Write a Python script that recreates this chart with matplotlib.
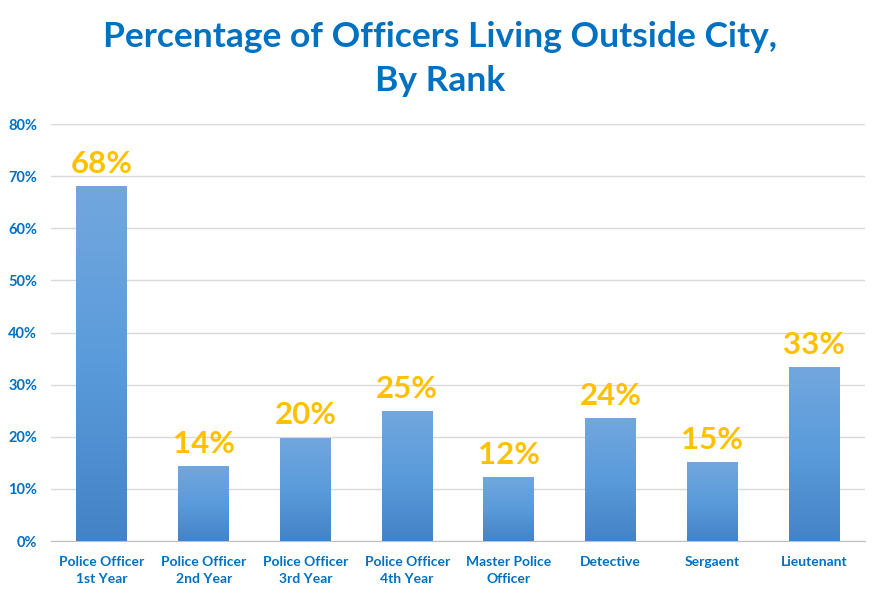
import numpy as np
import matplotlib.pyplot as plt
from matplotlib.colors import LinearSegmentedColormap

categories = ["Police Officer\n1st Year", "Police Officer\n2nd Year", "Police Officer\n3rd Year",
              "Police Officer\n4th Year", "Master Police\nOfficer", "Detective", "Sergaent", "Lieutenant"]
values = [68.1, 14.3, 19.8, 24.9, 12.3, 23.6, 15.1, 33.4]
labels = ["68%", "14%", "20%", "25%", "12%", "24%", "15%", "33%"]
yticks = [0, 10, 20, 30, 40, 50, 60, 70, 80]

blue = "#0070C0"
gold = "#FFC000"
plt.rcParams["font.family"] = ["Lato", "DejaVu Sans"]

fig = plt.figure(figsize=(8.8, 5.98), dpi=100)
ax = fig.add_axes([0.058, 0.0953, 0.925, 0.6973])

x = np.arange(len(categories))
bars = ax.bar(x, values, width=0.5, color="#5B9BD5", zorder=2)

# gradient fill, lighter at top
cmap = LinearSegmentedColormap.from_list("g", ["#4483C6", "#5A9BDB", "#72A7DE"])
grad = np.linspace(0, 1, 256).reshape(-1, 1)
for b in bars:
    x0, w, h = b.get_x(), b.get_width(), b.get_height()
    im = ax.imshow(grad, cmap=cmap, origin="lower", aspect="auto",
                   extent=[x0, x0 + w, 0, h], zorder=3)
    im.set_clip_path(b)

for xi, v, lab in zip(x, values, labels):
    ax.text(xi, v + 1.6, lab, ha="center", va="bottom", color=gold,
            fontsize=22.5, fontweight="bold")

ax.set_xlim(-0.5, len(categories) - 0.5)
ax.set_ylim(0, 80)
ax.set_yticks(yticks)
ax.set_yticklabels([f"{t}%" for t in yticks], color=blue, fontsize=10.5, fontweight="bold")
ax.set_xticks(x)
ax.set_xticklabels(categories, color=blue, fontsize=10, fontweight="bold", linespacing=1.45)
ax.grid(axis="y", color="#D9D9D9", linewidth=1, zorder=0)
ax.tick_params(axis="x", length=0, pad=11)
ax.tick_params(axis="y", length=0, pad=10)
for s in ["top", "right", "left"]:
    ax.spines[s].set_visible(False)
ax.spines["bottom"].set_color("#BFBFBF")

fig.text(0.5, 0.965, "Percentage of Officers Living Outside City,\nBy Rank", ha="center", va="top",
         color=blue, fontsize=25.5, fontweight="bold", linespacing=1.45)

fig.savefig("out.png", dpi=100)
